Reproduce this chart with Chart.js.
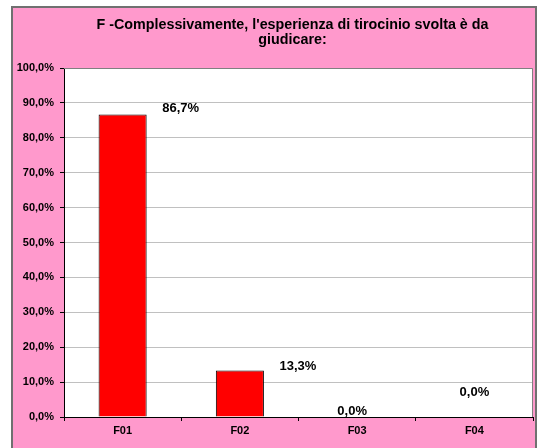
<!DOCTYPE html>
<html>
<head>
<meta charset="utf-8">
<script src="https://cdn.jsdelivr.net/npm/chart.js@4.4.1/dist/chart.umd.min.js"></script>
<style>
html, body { margin: 0; padding: 0; background: #ffffff; }
#box { position: absolute; left: 0; top: 0; width: 540px; height: 448px; }
</style>
</head>
<body>
<div id="box"><canvas id="grafico" width="540" height="448"></canvas></div>
<script>
// dati del grafico
const categorie = ["F01", "F02", "F03", "F04"];
const percentuali = [86.7, 13.3, 0.0, 0.0];
const titolo = ["F -Complessivamente, l'esperienza di tirocinio svolta è da", "giudicare:"];
const assePassi = [0, 100, 10]; // min, max, passo

const FONT = "'Liberation Sans', Arial, sans-serif";

function formatta(v) {
	return v.toFixed(1).replace(".", ",") + "%";
}

// sfondo rosa con cornice, area bianca e titolo
const sfondo = {
	id: "sfondo",
	beforeDraw(chart) {
		const ctx = chart.ctx;
		const a = chart.chartArea;
		ctx.save();
		ctx.fillStyle = "#ffffff";
		ctx.fillRect(0, 0, chart.width, chart.height);
		ctx.fillStyle = "#ff99cc";
		ctx.fillRect(12, 7, 524, 460);
		ctx.strokeStyle = "#707070";
		ctx.lineWidth = 2;
		ctx.strokeRect(12, 7, 524, 460);
		ctx.fillStyle = "#ffffff";
		ctx.fillRect(a.left, a.top, a.right - a.left, a.bottom - a.top);
		// titolo (centrato come nell'originale)
		ctx.fillStyle = "#000000";
		ctx.font = "bold 14.3px " + FONT;
		ctx.textAlign = "center";
		ctx.textBaseline = "middle";
		titolo.forEach(function(riga, i) {
			ctx.fillText(riga, 292.5, 25 + i * 15.5);
		});
		ctx.restore();
	},
	beforeDatasetsDraw(chart) {
		// bordo grigio sopra e a destra
		const ctx = chart.ctx;
		const a = chart.chartArea;
		ctx.save();
		ctx.strokeStyle = "#808080";
		ctx.lineWidth = 1;
		ctx.beginPath();
		ctx.moveTo(a.left, a.top + 0.5);
		ctx.lineTo(a.right - 0.5, a.top + 0.5);
		ctx.lineTo(a.right - 0.5, a.bottom);
		ctx.stroke();
		ctx.restore();
	}
};

// etichette dei valori accanto alle barre
const etichette = {
	id: "etichette",
	afterDatasetsDraw(chart, args, opts) {
		const ctx = chart.ctx;
		const meta = chart.getDatasetMeta(0);
		ctx.save();
		ctx.font = "bold 13px " + FONT;
		ctx.fillStyle = "#000000";
		ctx.textAlign = "center";
		ctx.textBaseline = "middle";
		meta.data.forEach(function(bar, i) {
			const sp = opts.spostamenti[i];
			ctx.fillText(formatta(percentuali[i]), bar.x + sp[0], bar.y + sp[1]);
		});
		ctx.restore();
	}
};

new Chart(document.getElementById("grafico"), {
	type: "bar",
	data: {
		labels: categorie,
		datasets: [{
			data: percentuali,
			backgroundColor: "#ff0000",
			borderColor: "#000000",
			borderWidth: 1,
			categoryPercentage: 1,
			barPercentage: 0.41
		}]
	},
	plugins: [sfondo, etichette],
	options: {
		responsive: false,
		animation: false,
		layout: { padding: { top: 68, left: 12, right: 7, bottom: 0 } },
		plugins: {
			legend: { display: false },
			tooltip: { enabled: false },
			title: { display: false },
			etichette: {
				spostamenti: [[58, -6], [58, -4], [-5, -6], [0, -25]]
			}
		},
		scales: {
			x: {
				grid: { drawOnChartArea: false, drawTicks: true, tickLength: 4, tickColor: "#000000", offset: true },
				border: { color: "#000000", width: 1 },
				ticks: { color: "#000000", padding: 3, font: { family: FONT, size: 11, weight: "bold" } },
				afterFit: function(s) { s.height = 31; }
			},
			y: {
				min: assePassi[0],
				max: assePassi[1],
				grid: { color: "#c0c0c0", tickColor: "#000000", tickLength: 4 },
				border: { color: "#000000", width: 1 },
				ticks: {
					stepSize: assePassi[2],
					color: "#000000",
					padding: 6,
					font: { family: FONT, size: 11, weight: "bold" },
					callback: function(v) { return formatta(v); }
				},
				afterFit: function(s) { s.width = 52; }
			}
		}
	}
});
</script>
</body>
</html>
